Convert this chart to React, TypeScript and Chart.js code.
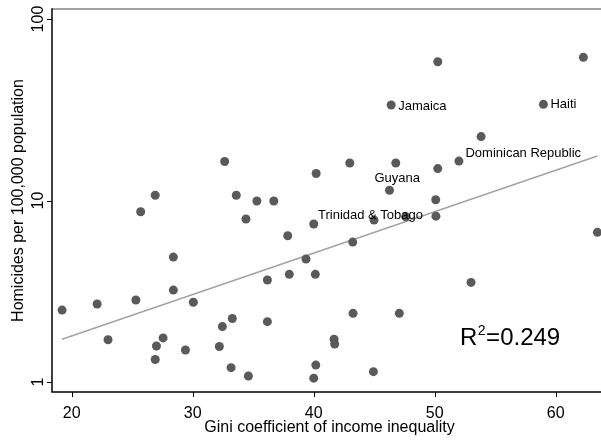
import { useEffect, useRef } from "react";
import { Chart, registerables } from "chart.js";

Chart.register(...registerables);

// ---- data ----
const gini = [
  19.2, 22.1, 23.0, 25.3, 25.7, 26.9, 26.9, 27.0, 27.55, 28.4,
  28.4, 29.4, 30.05, 32.2, 32.45, 32.64, 33.17, 33.27, 33.6, 34.4,
  34.6, 35.3, 36.17, 36.17, 36.7, 37.85, 37.98, 39.36, 40.0, 40.0,
  40.13, 40.17, 40.2, 41.68, 41.73, 42.98, 43.22, 43.25, 44.93, 44.98,
  46.26, 46.4, 46.78, 47.07, 47.6, 50.08, 50.1, 50.25, 50.25, 52.0,
  53.0, 53.83, 58.98, 62.28, 63.44,
];
const homicides = [
  2.49, 2.69, 1.71, 2.83, 8.67, 10.7, 1.33, 1.58, 1.75, 4.88,
  3.21, 1.5, 2.75, 1.57, 2.02, 16.4, 1.2, 2.24, 10.7, 7.91,
  1.08, 9.94, 3.65, 2.15, 9.94, 6.4, 3.92, 4.76, 7.42, 1.05,
  3.92, 1.24, 14.1, 1.72, 1.62, 16.1, 5.9, 2.39, 1.14, 7.8,
  11.4, 33.6, 16.1, 2.39, 8.14, 10.1, 8.2, 15.0, 58.2, 16.5,
  3.54, 22.5, 33.9, 61.5, 6.68,
];
const countryLabels = gini.map(() => "");
countryLabels[39] = "Trinidad & Tobago";
countryLabels[40] = "Guyana";
countryLabels[41] = "Jamaica";
countryLabels[49] = "Dominican Republic";
countryLabels[52] = "Haiti";

const xTicks = [20, 30, 40, 50, 60];
const yTicks = [1, 10, 100];
const fitGini = [19.2, 63.44];
const fitHomicides = [1.72, 17.6];
const rSquared = "0.249";
const xTitle = "Gini coefficient of income inequality";
const yTitle = "Homicides per 100,000 population";

// ---- styling ----
const FONT = '"Liberation Sans", Arial, Helvetica, sans-serif';
const labelOffsets: Record<string, [number, number]> = {
  "Trinidad & Tobago": [-56, -5],
  Guyana: [-15, -12],
  Jamaica: [7, 1],
  "Dominican Republic": [6.5, -7.5],
  Haiti: [7, 0],
};

const decorPlugin = {
  id: "decor",
  afterDatasetsDraw(chart: any) {
    const ctx = chart.ctx;
    const xs = chart.scales.x;
    const ys = chart.scales.y;
    ctx.save();
    ctx.fillStyle = "#000";
    ctx.font = `13px ${FONT}`;
    ctx.textAlign = "left";
    ctx.textBaseline = "middle";
    countryLabels.forEach((name, i) => {
      if (!name) return;
      const off = labelOffsets[name] || [6, 0];
      const px = xs.getPixelForValue(gini[i]);
      const py = ys.getPixelForValue(homicides[i]);
      ctx.fillText(name, px + off[0], py + off[1]);
    });
    ctx.restore();
  },
  afterDraw(chart: any) {
    const ctx = chart.ctx;
    const area = chart.chartArea;
    const xs = chart.scales.x;
    const ys = chart.scales.y;
    ctx.save();
    // top frame line
    ctx.strokeStyle = "#808080";
    ctx.lineWidth = 1.5;
    ctx.beginPath();
    ctx.moveTo(area.left, area.top);
    ctx.lineTo(area.right, area.top);
    ctx.stroke();
    // axes
    ctx.strokeStyle = "#000";
    ctx.lineWidth = 1.5;
    ctx.beginPath();
    ctx.moveTo(area.left, area.top - 0.75);
    ctx.lineTo(area.left, area.bottom);
    ctx.lineTo(area.right, area.bottom);
    ctx.stroke();
    // ticks
    ctx.lineWidth = 1;
    ctx.beginPath();
    xTicks.forEach((v) => {
      const x = Math.round(xs.getPixelForValue(v)) + 0.5;
      ctx.moveTo(x, area.bottom);
      ctx.lineTo(x, area.bottom + 5);
    });
    yTicks.forEach((v) => {
      const y = Math.round(ys.getPixelForValue(v)) + 0.5;
      ctx.moveTo(area.left, y);
      ctx.lineTo(area.left - 5, y);
    });
    ctx.stroke();
    // tick labels
    ctx.fillStyle = "#000";
    ctx.font = `16px ${FONT}`;
    ctx.textAlign = "center";
    ctx.textBaseline = "alphabetic";
    xTicks.forEach((v) => {
      ctx.fillText(String(v), xs.getPixelForValue(v), area.bottom + 25.5);
    });
    yTicks.forEach((v) => {
      ctx.save();
      ctx.translate(area.left - 9.5, ys.getPixelForValue(v));
      ctx.rotate(-Math.PI / 2);
      ctx.fillText(String(v), 0, 0);
      ctx.restore();
    });
    // titles
    ctx.fillText(xTitle, (area.left + area.right) / 2 + 3, area.bottom + 40);
    ctx.save();
    ctx.translate(23, (area.top + area.bottom) / 2);
    ctx.rotate(-Math.PI / 2);
    ctx.fillText(yTitle, 0, 0);
    ctx.restore();
    // R squared annotation
    ctx.textAlign = "left";
    ctx.font = `24px ${FONT}`;
    let tx = area.right - 141;
    const ty = area.bottom - 47;
    ctx.fillText("R", tx, ty);
    tx += ctx.measureText("R").width;
    ctx.font = `14px ${FONT}`;
    ctx.fillText("2", tx + 0.5, ty - 10);
    tx += ctx.measureText("2").width + 1;
    ctx.font = `24px ${FONT}`;
    ctx.fillText("=" + rSquared, tx, ty);
    ctx.restore();
  },
};

export default function App() {
  const canvasRef = useRef<HTMLCanvasElement | null>(null);

  useEffect(() => {
    if (!canvasRef.current) return;
    const chart = new Chart(canvasRef.current, {
      type: "scatter",
      data: {
        datasets: [
          {
            type: "scatter",
            data: gini.map((g, i) => ({ x: g, y: homicides[i] })),
            backgroundColor: "#5a5a5a",
            borderColor: "#5a5a5a",
            borderWidth: 0,
            pointRadius: 4.5,
            pointHoverRadius: 4.5,
            order: 0,
            clip: false as any,
          },
          {
            type: "line",
            data: fitGini.map((g, i) => ({ x: g, y: fitHomicides[i] })),
            borderColor: "#a3a3a3",
            borderWidth: 1.5,
            pointRadius: 0,
            fill: false,
            order: 1,
          } as any,
        ],
      },
      options: {
        responsive: false,
        devicePixelRatio: 1,
        animation: false,
        events: [],
        layout: { autoPadding: false, padding: { top: 9, right: 0, left: 0, bottom: 0 } },
        plugins: {
          legend: { display: false },
          tooltip: { enabled: false },
        },
        scales: {
          x: {
            type: "linear",
            min: 18.37,
            max: 63.74,
            grid: { display: false },
            border: { display: false },
            ticks: { display: false },
            afterBuildTicks: (s: any) => {
              s.ticks = xTicks.map((v) => ({ value: v }));
            },
            afterFit: (s: any) => {
              s.height = 49;
            },
          },
          y: {
            type: "logarithmic",
            min: 0.881,
            max: 113.6,
            grid: { display: false },
            border: { display: false },
            ticks: { display: false },
            afterBuildTicks: (s: any) => {
              s.ticks = yTicks.map((v) => ({ value: v }));
            },
            afterFit: (s: any) => {
              s.width = 52;
            },
          },
        },
      } as any,
      plugins: [decorPlugin],
    });
    return () => chart.destroy();
  }, []);

  return (
    <div style={{ position: "absolute", left: 0, top: 0, width: 601, height: 441, background: "#fff" }}>
      <canvas ref={canvasRef} width={601} height={441} style={{ display: "block" }} />
    </div>
  );
}
